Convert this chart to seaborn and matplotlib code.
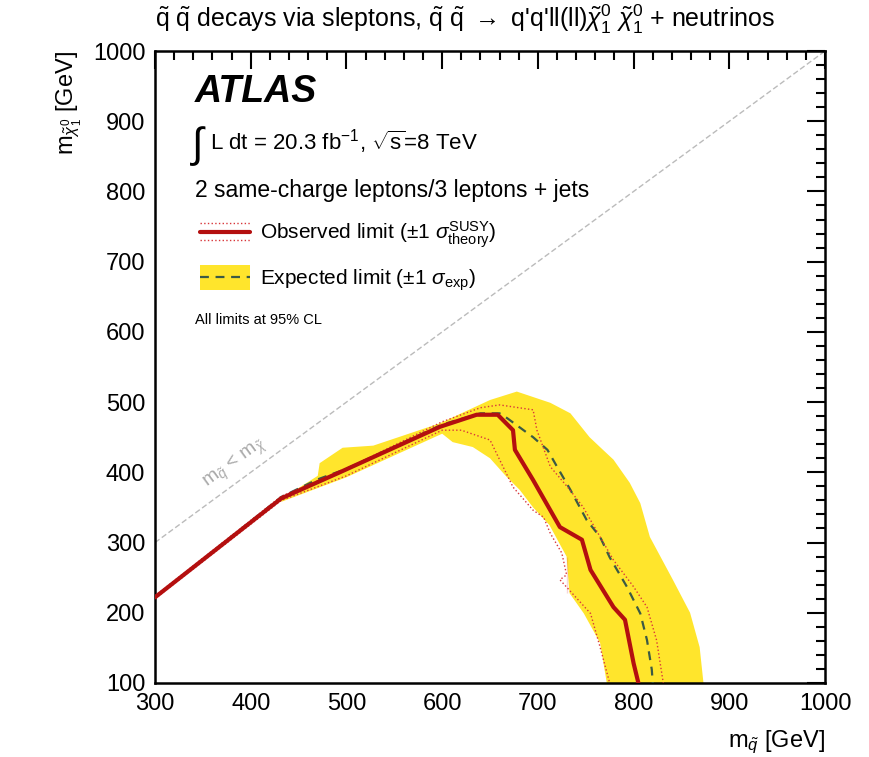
import numpy as np
import pandas as pd
import matplotlib
matplotlib.use('Agg')
import matplotlib.pyplot as plt
import seaborn as sns
from matplotlib.legend_handler import HandlerBase
from matplotlib.lines import Line2D
from matplotlib.patches import Rectangle
from matplotlib.ticker import MultipleLocator

# -------------------------------
# data (GeV)
# -------------------------------
obs_x = [300, 432, 493, 598, 636, 658, 674, 676, 695, 723, 746, 755, 779, 791, 800, 805]
obs_y = [222, 363, 400, 465, 482, 482, 460, 432, 389, 322, 304, 261, 208, 190, 128, 100]

obs_up_x = [300, 432, 500, 600, 640, 660, 695, 699, 713, 731, 747, 765, 779, 800, 814, 824, 831]
obs_up_y = [224, 366, 405, 472, 492, 496, 489, 460, 408, 379, 351, 308, 275, 237, 208, 161, 100]

obs_dn_x = [300, 432, 500, 600, 620, 650, 660, 674, 695, 706, 713, 725, 730, 723, 730, 755, 765, 775]
obs_dn_y = [220, 360, 395, 460, 460, 446, 418, 379, 346, 336, 313, 285, 280, 247, 228, 199, 151, 100]

exp_x = [300, 432, 470, 500, 600, 640, 660, 668, 695, 710, 720, 734, 751, 765, 775, 793, 807, 814, 819, 820]
exp_y = [222, 365, 390, 405, 468, 484, 484, 477, 450, 432, 408, 375, 332, 308, 279, 237, 199, 161, 119, 100]

band_up_x = [432, 470, 472, 496, 528, 598, 650, 678, 713, 734, 754, 768, 779, 796, 807, 817, 841, 859, 869, 873]
band_up_y = [362, 395, 413, 435, 438, 470, 503, 515, 499, 484, 450, 432, 418, 385, 356, 308, 247, 200, 151, 100]

band_dn_x = [432, 500, 600, 611, 632, 650, 667, 681, 695, 712, 722, 730, 733, 748, 765, 772]
band_dn_y = [358, 393, 455, 443, 436, 420, 394, 375, 350, 325, 300, 280, 228, 199, 157, 100]

diag = [300, 1000]

# -------------------------------
# style
# -------------------------------
sns.set_style("white")
plt.rcParams['font.family'] = ['Liberation Sans', 'DejaVu Sans']
plt.rcParams['mathtext.fontset'] = 'custom'
plt.rcParams['mathtext.rm'] = 'Liberation Sans'
plt.rcParams['mathtext.it'] = 'Liberation Sans:italic'
plt.rcParams['mathtext.bf'] = 'Liberation Sans:bold'
plt.rcParams['text.color'] = 'black'
plt.rcParams['axes.labelcolor'] = 'black'
plt.rcParams['xtick.color'] = 'black'
plt.rcParams['ytick.color'] = 'black'

YELLOW = '#FFE52C'
RED = '#B40F0F'
DOT = '#D8363A'
GREEN = '#3B5A45'

fig = plt.figure(figsize=(8.69, 7.57), dpi=100)
ax = fig.add_axes([0.1784, 0.0978, 0.771, 0.8348])

# band
ax.fill(band_up_x + band_dn_x[::-1], band_up_y + band_dn_y[::-1],
        color=YELLOW, lw=0, zorder=1)

# diagonal
sns.lineplot(x=diag, y=diag, ax=ax, color='#BBBBBB', lw=1, zorder=2).lines[-1].set_dashes([4, 2])

sns.lineplot(x=exp_x, y=exp_y, ax=ax, sort=False, color=GREEN, lw=1.6,
             zorder=3).lines[-1].set_dashes([4, 3])
sns.lineplot(x=obs_up_x, y=obs_up_y, ax=ax, sort=False, color=DOT, lw=1,
             zorder=4).lines[-1].set_linestyle(':')
sns.lineplot(x=obs_dn_x, y=obs_dn_y, ax=ax, sort=False, color=DOT, lw=1,
             zorder=4).lines[-1].set_linestyle(':')
sns.lineplot(x=obs_x, y=obs_y, ax=ax, sort=False, color=RED, lw=3, zorder=5)

ax.set_xlim(300, 1000)
ax.set_ylim(100, 1000)

# ROOT-like ticks
ax.xaxis.set_major_locator(MultipleLocator(100))
ax.xaxis.set_minor_locator(MultipleLocator(20))
ax.yaxis.set_major_locator(MultipleLocator(100))
ax.yaxis.set_minor_locator(MultipleLocator(20))
ax.tick_params(which='both', direction='in', top=True, right=True,
               labelsize=17, width=1.5)
ax.tick_params(which='major', length=13)
ax.tick_params(which='minor', length=6.5)
ax.tick_params(axis='x', pad=7)
ax.tick_params(axis='y', pad=7)
for s in ax.spines.values():
    s.set_linewidth(1.8)
    s.set_color('black')

ax.set_xlabel(r"m$_{\tilde{q}}$ [GeV]", fontsize=17, loc='right', labelpad=10)
ax.set_ylabel(r"m$_{\tilde{\chi}^0_1}$ [GeV]", fontsize=17, loc='top', labelpad=6)

fig.text(0.535, 0.974,
         r"$\tilde{\rm q}$ $\tilde{\rm q}$ decays via sleptons, $\tilde{\rm q}$ $\tilde{\rm q}$ $\rightarrow$ q'q'll(ll)$\tilde{\chi}^0_1$ $\tilde{\chi}^0_1$ + neutrinos",
         ha='center', va='center', fontsize=18)

# text block
ax.text(0.06, 0.935, "ATLAS", transform=ax.transAxes, fontsize=27,
        fontweight='bold', fontstyle='italic', va='center')
ax.text(0.052, 0.85, r"$\int$", transform=ax.transAxes, fontsize=30, va='center')
ax.text(0.082, 0.856, r"L dt = 20.3 fb$^{-1}$, $\sqrt{\rm s}$=8 TeV",
        transform=ax.transAxes, fontsize=16, va='center')
ax.text(0.06, 0.78, "2 same-charge leptons/3 leptons + jets",
        transform=ax.transAxes, fontsize=16.5, va='center')
ax.text(0.06, 0.574, "All limits at 95% CL", transform=ax.transAxes,
        fontsize=10.5, va='center')
ax.text(384, 412, r"m$_{\tilde{q}}$ < m$_{\tilde{\chi}}$", fontsize=14,
        color='#AAAAAA', rotation=36, ha='center', va='center')


class ObsHandler(HandlerBase):
    def create_artists(self, legend, orig, xd, yd, w, h, fs, trans):
        arts = [Line2D([xd, xd + w], [yd + h / 2] * 2, color=RED, lw=3)]
        for off in (-0.1, 1.1):
            arts.append(Line2D([xd, xd + w], [yd + h * off] * 2, color=DOT,
                               lw=1, ls=':'))
        for a in arts:
            a.set_transform(trans)
        return arts


class ExpHandler(HandlerBase):
    def create_artists(self, legend, orig, xd, yd, w, h, fs, trans):
        r = Rectangle((xd, yd - h * 0.35), w, h * 1.7, color=YELLOW, lw=0,
                      transform=trans)
        l = Line2D([xd, xd + w], [yd + h / 2] * 2, color=GREEN, lw=1.6,
                   ls=(0, (4, 3)), transform=trans)
        return [r, l]


h_obs = Line2D([], [])
h_exp = Rectangle((0, 0), 1, 1)
ax.legend([h_obs, h_exp],
          [r"Observed limit ($\pm 1$ $\sigma^{\rm SUSY}_{\rm theory}$)",
           r"Expected limit ($\pm 1$ $\sigma_{\rm exp}$)"],
          handler_map={Line2D: ObsHandler(), Rectangle: ExpHandler()},
          loc='upper left', bbox_to_anchor=(0.067, 0.734), frameon=False,
          borderpad=0, borderaxespad=0,
          fontsize=15, handlelength=2.4, handletextpad=0.5, labelspacing=0.85)

fig.savefig('out.png', dpi=100)
